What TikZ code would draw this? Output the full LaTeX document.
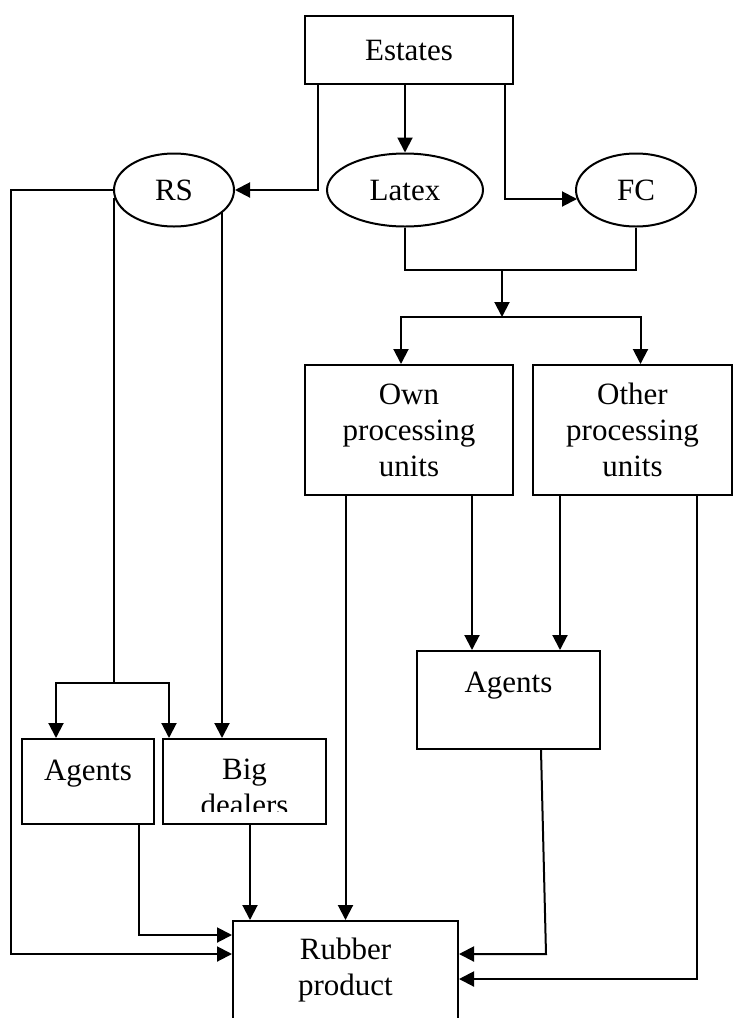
\documentclass[tikz,border=0pt]{standalone}
\usepackage{fontspec}
\setmainfont{Liberation Serif}
\usetikzlibrary{calc,shapes,arrows.meta}

\begin{document}
\begin{tikzpicture}[x=0.5pt,y=-0.5pt,line width=1pt,
  every node/.style={font=\fontsize{15.5}{18}\selectfont},
  box/.style={draw,rectangle,inner sep=0pt,align=center},
  oval/.style={draw,ellipse,inner sep=0pt,minimum height=36.5pt},
  arr/.style={-{Triangle[length=7.5pt,width=7.5pt]}}]
\useasboundingbox (0,0) rectangle (733,1018);
\fill[white] (0,0) rectangle (733,1018);
\node[box,minimum width=104pt,minimum height=34pt] (est) at (409,50) {Estates};
\node[oval,minimum width=60pt] (rs) at (174,190) {RS};
\node[oval,minimum width=78pt] (lat) at (405,190) {Latex};
\node[oval,minimum width=60pt] (fc) at (636,190) {FC};
\node[box,minimum width=104pt,minimum height=65pt] (own) at (409,430) {Own\\processing\\units};
\node[box,minimum width=99.5pt,minimum height=65pt] (oth) at (632.5,430) {Other\\processing\\units};
\node[box,minimum width=91.5pt,minimum height=49pt] (agr) at (508.5,700) {Agents\\ \mbox{}};
\node[box,minimum width=66pt,minimum height=42.5pt] (agl) at (88,781.5) {\rule{0pt}{16.5pt}Agents\\ \mbox{}};
\node[box,minimum width=81.5pt,minimum height=42.5pt] (big) at (244.5,781.5) {\rule{0pt}{16.5pt}Big\\dealers};
\fill[white] (165,812) rectangle (324,822.5);
\node[box,minimum width=112.5pt,minimum height=49pt] (rub) at (345.5,970) {Rubber\\product};
% from estates
\draw[arr] ($(est.south west)+(14,0)$) |- (rs.east);
\draw[arr] (lat.north |- est.south) -- (lat.north);
\draw[arr] ($(est.south east)+(-9,0)$) |- ($(fc.west)+(2,9)$);
% latex and fc to processing units
\coordinate (jtop) at (502,270);
\coordinate (jmid) at (502,317);
\draw (lat.south) |- (jtop) -| (fc.south);
\draw[arr] (jtop) -- (jmid);
\draw[arr] (jmid) -| ($(own.north)+(-8,0)$);
\draw[arr] (jmid) -| ($(oth.north)+(8,0)$);
\draw[arr] (rub.north |- own.south) -- (rub.north);
\draw[arr] ($(own.south east)+(-42,0)$) -- ($(own.south east |- agr.north)+(-42,0)$);
\draw[arr] ($(oth.south west)+(28,0)$) -- ($(oth.south west |- agr.north)+(28,0)$);
\draw[arr] ($(oth.south east)+(-36,0)$) |- ($(rub.east)+(0,9)$);
\draw[arr] ($(agr.south west)+(125,0)$) -- ($(agr.south west |- rub.east)+(130,-16)$) -- ($(rub.east)+(0,-16)$);
% RS branches
\draw[arr] (rs.west) -- ++(-102,0) |- ($(rub.west)+(0,-16)$);
\draw ($(rs.center)+(-60,8)$) -- ++(0,485) coordinate (jrs);
\draw[arr] (jrs) -| ($(agl.north)+(-32,0)$);
\draw[arr] (jrs) -| ($(big.north west)+(7,0)$);
\draw[arr] ($(rs.center)+(48,22)$) -- ($(rs.center |- big.north)+(48,0)$);
\draw[arr] ($(agl.south east)+(-16,0)$) |- ($(rub.west)+(0,-35)$);
\draw[arr] ($(big.south)+(5.5,0)$) -- ($(big.south |- rub.north)+(5.5,0)$);
\end{tikzpicture}
\end{document}
